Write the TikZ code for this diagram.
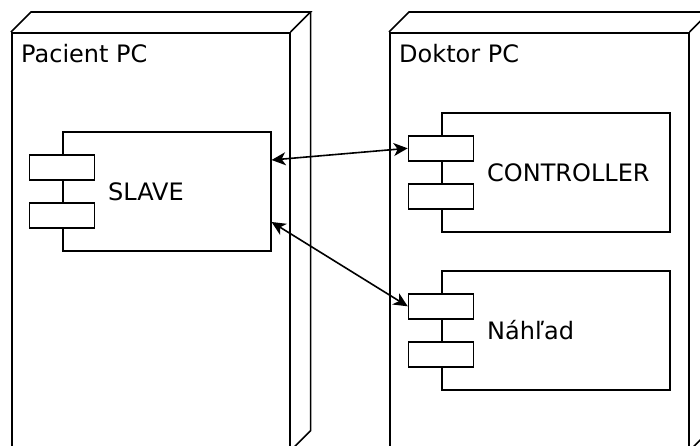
\documentclass[tikz,border=0pt]{standalone}
\usepackage{fontspec}
\setmainfont{DejaVu Sans}
\usepackage{tikz}
\usetikzlibrary{arrows.meta,positioning}
\tikzstyle{device} = [rectangle, draw=black, line width=1.6pt, fill=white, anchor=north west, minimum height=417pt, inner sep=0pt]
\tikzstyle{devline} = [draw=black, line width=1.6pt, line join=miter]
\tikzstyle{comp} = [rectangle, draw=black, line width=1.6pt, fill=white, anchor=north west, minimum height=119pt, inner sep=0pt]
\tikzstyle{port} = [rectangle, draw=black, line width=1.6pt, fill=white, minimum width=65pt, minimum height=25pt, inner sep=0pt]
\tikzstyle{title} = [inner sep=0pt, text=black, font=\fontsize{24}{28}\selectfont, anchor=base west]
\tikzstyle{cname} = [inner sep=0pt, text=black, font=\fontsize{24}{28}\selectfont, text height=17.5pt, text depth=0pt, anchor=west]
\tikzstyle{tedge} = [draw, line width=1.6pt, {Stealth[length=14pt,width=13pt,inset=4pt]}-{Stealth[length=14pt,width=13pt,inset=4pt]}]

\begin{document}
\begin{tikzpicture}[x=1pt, y=-1pt]
\clip (0,0) rectangle (700,445);
\fill[white] (0,0) rectangle (700,445);

% devices ====================================
\node[device, minimum width=278pt] (pacient) at (11,32) {};
\node[device, minimum width=299pt] (doktor) at (389,32) {};
\foreach \n in {pacient,doktor}{
  \path[devline] (\n.north west) -- ++(20,-20) -- ([shift={(20,-20)}]\n.north east) -- (\n.north east);
  \path[devline] ([shift={(20,-20)}]\n.north east) -- ([shift={(20,-20)}]\n.south east) -- (\n.south east);
}
\node[title] (pacienttitle) at ([xshift=10pt,yshift=-30pt]pacient.north west) {Pacient PC};
\node[title] (doktortitle) at ([xshift=10pt,yshift=-30pt]doktor.north west) {Doktor PC};

% components =================================
\node[comp, minimum width=208pt] (slave) at (62,131) {};
\node[comp, minimum width=228pt] (controller) at (441,112) {};
\node[comp, minimum width=228pt] (nahlad) at (441,270) {};
\foreach \c in {slave,controller,nahlad}{
  \node[port, anchor=north] (\c-p1) at ([yshift=-23pt]\c.north west) {};
  \node[port, anchor=north] (\c-p2) at ([yshift=-71pt]\c.north west) {};
}
\node[cname, right=46pt of slave.west] (slavename) {SLAVE};
\node[cname, right=46pt of controller.west] (controllername) {CONTROLLER};
\node[cname, right=46pt of nahlad.west] (nahladname) {Náhľad};

% edges
\coordinate (slave-a) at ([yshift=-29pt]slave.north east);
\coordinate (slave-b) at ([yshift=-91pt]slave.north east);
\path[tedge] (slave-a) -- (controller-p1.west);
\path[tedge] (slave-b) -- (nahlad-p1.west);

\end{tikzpicture}
\end{document}
